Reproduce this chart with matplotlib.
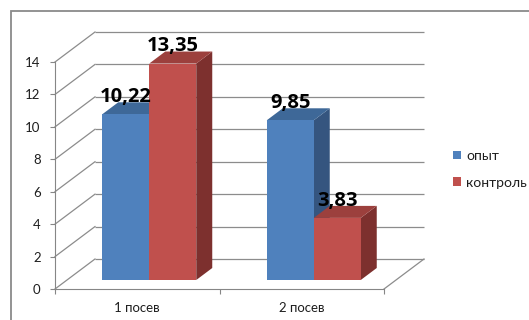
import matplotlib
matplotlib.use("Agg")
import matplotlib.pyplot as plt
from matplotlib.patches import Polygon, Rectangle
from matplotlib.transforms import Affine2D

# ---- data ----
categories = ["1 посев", "2 посев"]
series_names = ["опыт", "контроль"]
opyt = [10.22, 9.85]
kontrol = [13.35, 3.83]
y_ticks = [0, 2, 4, 6, 8, 10, 12, 14]

# ---- style ----
FONT = "Lato"
LABEL_FONT = "Open Sans"
blue = dict(front="#4F81BD", top="#3E6898", side="#35557F")
red = dict(front="#C0504D", top="#9C403D", side="#7D302E")
grid_color = "#8C8C8C"
axis_color = "#868686"
text_color = "#1E1E1E"

W, H = 529, 320
fig = plt.figure(figsize=(W / 100, H / 100), dpi=100)
fig.patch.set_facecolor("white")

# front plane of the 3-D box
ax_left, ax_bottom, ax_w, ax_h = 55, H - 289, 329, 227
ax = fig.add_axes([ax_left / W, ax_bottom / H, ax_w / W, ax_h / H])
ax.set_xlim(0, 2)
ax.set_ylim(0, 14)
ax.set_autoscale_on(False)
ax.patch.set_visible(False)

# oblique depth direction: full depth = 40 px right, 30 px up
DEPTH_PX = (40.0, 30.0)
kx = DEPTH_PX[0] * 2 / ax_w
ky = DEPTH_PX[1] * 14 / ax_h


def proj(x, y, d):
    return (x + d * kx, y + d * ky)


# back wall gridlines and left wall diagonals
for v in y_ticks:
    p0, p1 = proj(0, v, 1), proj(2, v, 1)
    ax.plot([p0[0], p1[0]], [p0[1], p1[1]], color=grid_color, lw=0.9,
            clip_on=False, zorder=0.5, solid_capstyle="butt")
    q0, q1 = proj(0, v, 0), proj(0, v, 1)
    ax.plot([q0[0], q1[0]], [q0[1], q1[1]], color=grid_color, lw=0.9,
            clip_on=False, zorder=0.5)
# floor right edge
r0, r1 = proj(2, 0, 0), proj(2, 0, 1)
ax.plot([r0[0], r1[0]], [r0[1], r1[1]], color=grid_color, lw=0.9,
        clip_on=False, zorder=0.5)

# axes spines / ticks
for s in ("top", "right"):
    ax.spines[s].set_visible(False)
for s in ("left", "bottom"):
    ax.spines[s].set_color(axis_color)
    ax.spines[s].set_linewidth(0.8)
ax.set_yticks(y_ticks)
ax.set_yticklabels([str(t) for t in y_ticks], fontfamily=FONT, fontsize=9.5,
                   color=text_color)
ax.tick_params(axis="y", length=3.8, width=0.8, color=axis_color, pad=6.5)
ax.set_xticks([0, 1, 2])
ax.set_xticklabels([])
ax.set_xticks([0.5, 1.5], minor=True)
ax.set_xticklabels(categories, minor=True, fontfamily=FONT, fontsize=9.5,
                   color=text_color)
ax.tick_params(axis="x", which="major", length=3.5, width=0.8,
               color=axis_color)
ax.tick_params(axis="x", which="minor", length=0, pad=9.5)

# ---- 3-D bars ----
D0, D1 = 0.3, 0.7
bw = 0.2857
front_shift = Affine2D().translate(D0 * kx, D0 * ky) + ax.transData
centers = [0.5, 1.5]

cont_b = ax.bar([c - bw / 2 for c in centers], opyt, width=bw,
                color=blue["front"], linewidth=0, transform=front_shift,
                label=series_names[0])
cont_r = ax.bar([c + bw / 2 for c in centers], kontrol, width=bw,
                color=red["front"], linewidth=0, transform=front_shift,
                label=series_names[1])

for i, c in enumerate(centers):
    for j, (vals, col, cont) in enumerate(((opyt, blue, cont_b),
                                           (kontrol, red, cont_r))):
        z = 2 + 2 * i + j
        v = vals[i]
        x0 = c - bw if j == 0 else c
        x1 = x0 + bw
        side = [proj(x1, 0, D0), proj(x1, 0, D1), proj(x1, v, D1), proj(x1, v, D0)]
        top = [proj(x0, v, D0), proj(x1, v, D0), proj(x1, v, D1), proj(x0, v, D1)]
        ax.add_patch(Polygon(side, closed=True, facecolor=col["side"],
                             edgecolor="none", zorder=z, clip_on=False))
        ax.add_patch(Polygon(top, closed=True, facecolor=col["top"],
                             edgecolor="none", zorder=z + 0.1, clip_on=False))
        cont.patches[i].set_zorder(z + 0.2)
        cont.patches[i].set_clip_on(False)
        lx, ly = proj(c - bw / 2 if j == 0 else c + bw / 2, v, D0)
        ax.annotate(f"{v:.2f}".replace(".", ","), xy=(lx, ly),
                    xytext=(0, 12.5), textcoords="offset points",
                    ha="center", va="center", fontsize=14.5,
                    fontweight="bold", fontfamily=LABEL_FONT, color="black",
                    zorder=10, annotation_clip=False)

# ---- legend ----
fig.legend(handles=[cont_b, cont_r], labels=series_names,
           loc="upper left", bbox_to_anchor=(453 / W, 1 - 150 / H),
           frameon=False, prop=dict(family=FONT, size=10),
           handlelength=0.55, handleheight=0.55, handletextpad=0.4,
           labelspacing=1.05, borderpad=0, borderaxespad=0,
           labelcolor=text_color)

# chart area border
fig.add_artist(Rectangle((11 / W, -0.1), 1.2, 1 - 11 / H + 0.1,
                         transform=fig.transFigure, fill=False,
                         edgecolor="#8A8A8A", lw=1.3))

fig.savefig("out.png", dpi=100, facecolor="white")
